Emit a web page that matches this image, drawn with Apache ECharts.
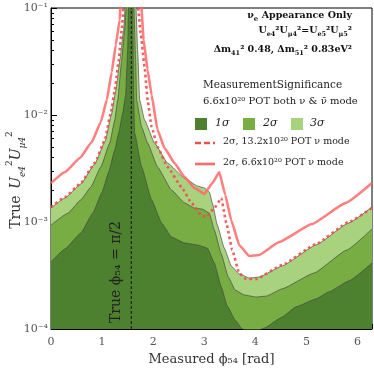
<!DOCTYPE html>
<html>
<head>
<meta charset="utf-8">
<script src="https://cdn.jsdelivr.net/npm/echarts@6/dist/echarts.min.js"></script>
<style>
html,body{margin:0;padding:0;background:#fff;}
#main{width:374px;height:376px;}
</style>
</head>
<body>
<div id="main"></div>
<script>
// measured phi54 (rad) / true Ue4^2 Umu4^2 for each contour
var sig1X = [0,0.273,0.585,0.819,0.994,1.131,1.248,1.326,1.404,1.462,1.501,1.520,1.598,1.618,1.637,1.774,1.969,2.164,2.359,2.612,2.865,3.060,3.197,3.333,3.450,3.606,3.743,3.879,4.035,4.172,4.522,4.795,5.185,5.439,5.828,6.283];
var sig1Y = [4.23e-4,5.60e-4,7.89e-4,1.21e-3,1.87e-3,2.93e-3,4.71e-3,6.79e-3,1.04e-2,1.54e-2,4.05e-2,0.12,0.12,1.38e-2,6.79e-3,3.27e-3,1.61e-3,9.79e-4,7.24e-4,6.37e-4,6.10e-4,5.71e-4,4.14e-4,2.47e-4,1.64e-4,1.21e-4,1.0e-4,9.37e-5,9.57e-5,1.02e-4,1.29e-4,1.61e-4,1.91e-4,2.22e-4,2.81e-4,4.14e-4];

var sig2X = [0,0.331,0.585,0.780,0.975,1.150,1.248,1.306,1.384,1.442,1.481,1.618,1.657,1.676,1.774,1.891,2.086,2.359,2.612,2.807,2.963,3.099,3.197,3.333,3.470,3.606,3.782,4.016,4.211,4.522,5.146,5.789,6.283];
var sig2Y = [9.37e-4,1.21e-3,1.61e-3,2.12e-3,3.27e-3,5.47e-3,8.97e-3,1.38e-2,3.27e-2,6.22e-2,0.12,0.12,3.27e-2,1.38e-2,7.73e-3,5.47e-3,3.27e-3,1.99e-3,1.51e-3,1.35e-3,1.32e-3,1.21e-3,8.41e-4,5.02e-4,3.06e-4,2.31e-4,2.08e-4,1.99e-4,2.03e-4,2.37e-4,3.33e-4,5.47e-4,8.61e-4];

var sig3X = [0,0.273,0.585,0.858,1.06,1.18,1.27,1.35,1.42,1.46,1.657,1.696,1.735,1.832,2.027,2.281,2.612,2.865,3.002,3.099,3.158,3.255,3.392,3.528,3.684,3.879,4.074,4.522,5.185,5.828,6.283];
var sig3Y = [1.35e-3,1.68e-3,2.27e-3,3.5e-3,5.7e-3,1.0e-2,1.7e-2,3.3e-2,6.2e-2,0.12,0.12,4.05e-2,1.38e-2,8.97e-3,5.47e-3,3.56e-3,2.58e-3,2.17e-3,2.08e-3,1.91e-3,1.51e-3,9.37e-4,5.71e-4,3.88e-4,3.27e-4,3.0e-4,3.06e-4,3.88e-4,6.10e-4,9.79e-4,1.38e-3];

// 2 sigma, 13.2e20 POT nu mode
var dotX = [0,0.273,0.585,0.858,1.053,1.170,1.248,1.326,1.384,1.43,1.69,1.754,1.832,1.891,1.969,2.086,2.281,2.554,2.749,2.943,3.041,3.197,3.333,3.431,3.548,3.684,3.821,4.016,4.522,5.185,5.828,6.283];
var dotY = [1.38e-3,1.71e-3,2.31e-3,3.56e-3,5.84e-3,1.04e-2,1.71e-2,3.27e-2,6.22e-2,0.12,0.12,5.84e-2,2.81e-2,1.38e-2,7.73e-3,5.02e-3,3.27e-3,2.12e-3,1.51e-3,1.16e-3,1.11e-3,1.35e-3,1.67e-3,9.79e-4,5.47e-4,3.33e-4,2.93e-4,2.93e-4,3.96e-4,6.22e-4,1.0e-3,1.35e-3];

// 2 sigma, 6.6e20 POT nu mode
var solX = [0,0.273,0.565,0.799,0.975,1.092,1.189,1.267,1.345,1.365,1.76,1.813,1.891,1.969,2.086,2.222,2.417,2.612,2.807,3.002,3.158,3.294,3.411,3.528,3.684,3.879,4.074,4.464,5.107,5.770,6.283];
var solY = [2.31e-3,2.93e-3,3.96e-3,5.60e-3,8.61e-3,1.38e-2,2.52e-2,4.51e-2,7.73e-2,0.12,0.12,5.02e-2,2.64e-2,1.54e-2,7.24e-3,4.92e-3,3.56e-3,2.64e-3,2.08e-3,1.83e-3,2.31e-3,2.93e-3,1.79e-3,1.04e-3,6.10e-4,4.81e-4,4.92e-4,6.50e-4,9.57e-4,1.51e-3,2.31e-3];

var truePhi = Math.PI / 2;

function pairs(xs, ys){
	var out = [];
	for(var i=0;i<xs.length;i++){ out.push([xs[i], ys[i]]); }
	return out;
}

var minorVals = [];
for(var e=-4;e<-1;e++){
	for(var m=2;m<10;m++){ minorVals.push(m*Math.pow(10,e)); }
}

var supMap = {'-':'⁻','0':'⁰','1':'¹','2':'²','3':'³','4':'⁴'};
function sup(s){ return String(s).split('').map(function(c){return supMap[c];}).join(''); }

var serif = '"DejaVu Serif", "Liberation Serif", serif';
var c1 = '#4d812f', c2 = '#77ad42', c3 = '#a9d27f';
var edge = {color:'#444', width:0.8, opacity:0.85};

function band(name, xs, ys, color){
	return {
		name:name, type:'line', data:pairs(xs,ys),
		showSymbol:false, smooth:0.12, smoothMonotone:'x', clip:true,
		lineStyle:edge,
		areaStyle:{color:color, opacity:1, origin:'start'},
		silent:true
	};
}

var myChart = echarts.init(document.getElementById('main'));
var option = {
	backgroundColor:'#fff',
	animation:false,
	grid:{left:51, right:2, top:8, bottom:47, show:true, borderColor:'#000', borderWidth:1,
		containLabel:false, outerBoundsMode:'none'},
	xAxis:{
		type:'value', min:0, max:2*Math.PI, interval:1,
		name:'Measured ϕ₅₄ [rad]', nameLocation:'middle', nameGap:24,
		nameTextStyle:{fontFamily:serif, fontSize:13, color:'#333'},
		axisLine:{lineStyle:{color:'#000'}},
		axisTick:{inside:true, length:5, lineStyle:{color:'#000'}},
		minorTick:{show:true, splitNumber:5, length:3, lineStyle:{color:'#000'}},
		axisLabel:{fontFamily:serif, fontSize:11, color:'#555', margin:8, showMaxLabel:false,
			formatter:function(v){ return Math.abs(v-Math.round(v))<1e-6 ? String(Math.round(v)) : ''; }},
		splitLine:{show:false}
	},
	yAxis:[{
		type:'log', logBase:10, min:1e-4, max:1e-1, position:'left',
		axisLine:{show:true, lineStyle:{color:'#000'}},
		axisTick:{inside:true, length:6, lineStyle:{color:'#000'}},
		axisLabel:{fontFamily:serif, fontSize:11, color:'#555', margin:3,
			formatter:function(v){ return '10' + sup(Math.round(Math.log10(v))); }},
		splitLine:{show:false}
	},{
		type:'log', logBase:10, min:1e-4, max:1e-1, position:'left', offset:0,
		axisLine:{show:false},
		axisTick:{show:true, inside:true, length:3, customValues:minorVals, lineStyle:{color:'#000'}},
		axisLabel:{show:false},
		splitLine:{show:false}
	}],
	series:[
		band('3σ', sig3X, sig3Y, c3),
		band('2σ', sig2X, sig2Y, c2),
		band('1σ', sig1X, sig1Y, c1),
		{
			name:'2σ, 13.2x10²⁰ POT ν mode', type:'line', data:pairs(dotX,dotY),
			showSymbol:false, smooth:0.12, smoothMonotone:'x', clip:true,
			lineStyle:{color:'#ec4f4f', width:2.6, type:[2.6,3], opacity:0.9}
		},
		{
			name:'2σ, 6.6x10²⁰ POT ν mode', type:'line', data:pairs(solX,solY),
			showSymbol:false, smooth:0.12, smoothMonotone:'x', clip:true,
			lineStyle:{color:'#ff6a6a', width:2.6, opacity:0.85}
		},
		{
			name:'true phi', type:'line', data:[[truePhi,1e-4],[truePhi,1e-1]],
			showSymbol:false, lineStyle:{color:'#111', width:1, type:[3,2]}
		}
	],
	graphic:[
		{type:'text', x:16, y:180, rotation:Math.PI/2, z:100,
			style:{text:'{t|True}  {i|U}{s|e4}{p|2}{i|U}{s|μ4}{p|2}', align:'center', verticalAlign:'middle',
				rich:{
					t:{font:'14px ' + serif, fill:'#333', lineHeight:22},
					i:{font:'italic 14px ' + serif, fill:'#333', lineHeight:22},
					s:{font:'italic 9px ' + serif, fill:'#333', verticalAlign:'bottom', lineHeight:22},
					p:{font:'9px ' + serif, fill:'#333', verticalAlign:'top', lineHeight:22}
				}}},
		{type:'text', x:116, y:272, rotation:Math.PI/2, z:100,
			style:{text:'True ϕ₅₄ = π/2', font:'14px ' + serif, fill:'#222', align:'center', verticalAlign:'middle'}},
		{type:'text', right:22, top:11, z:100,
			style:{text:'{b|ν}{bs|e}{b| Appearance Only}', align:'right',
				rich:{b:{font:'bold 9.5px ' + serif, fill:'#111'}, bs:{font:'bold 7px ' + serif, fill:'#111', verticalAlign:'bottom', lineHeight:14}}}},
		{type:'text', right:22, top:26, z:100,
			style:{text:'{b|U}{s|e4}{b|²U}{s|μ4}{b|²=U}{s|e5}{b|²U}{s|μ5}{b|²}', align:'right',
				rich:{b:{font:'bold 9.5px ' + serif, fill:'#111'}, s:{font:'bold 6.5px ' + serif, fill:'#111', verticalAlign:'bottom', lineHeight:14}}}},
		{type:'text', right:22, top:45, z:100,
			style:{text:'{b|Δm}{s|41}{b|² 0.48, Δm}{s|51}{b|² 0.83eV²}', align:'right',
				rich:{b:{font:'bold 9.5px ' + serif, fill:'#111'}, s:{font:'bold 6.5px ' + serif, fill:'#111', verticalAlign:'bottom', lineHeight:14}}}},
		{type:'text', left:203, top:80, z:100,
			style:{text:'MeasurementSignificance', font:'10.5px ' + serif, fill:'#222'}},
		{type:'text', left:203, top:96, z:100,
			style:{text:'6.6x10²⁰ POT both ν & ν̄ mode', font:'10px ' + serif, fill:'#222'}},
		{type:'rect', shape:{x:195, y:118, width:12, height:12}, style:{fill:c1}, z:100},
		{type:'text', left:215, top:118, z:100, style:{text:'1σ', font:'italic 11px ' + serif, fill:'#222'}},
		{type:'rect', shape:{x:243, y:118, width:12, height:12}, style:{fill:c2}, z:100},
		{type:'text', left:263, top:118, z:100, style:{text:'2σ', font:'italic 11px ' + serif, fill:'#222'}},
		{type:'rect', shape:{x:291, y:118, width:12, height:12}, style:{fill:c3}, z:100},
		{type:'text', left:310, top:118, z:100, style:{text:'3σ', font:'italic 11px ' + serif, fill:'#222'}},
		{type:'line', shape:{x1:195, y1:143, x2:215, y2:143}, style:{stroke:'#ec4f4f', lineWidth:2.4, lineDash:[6,3]}, z:100},
		{type:'text', left:223, top:137, z:100, style:{text:'2σ, 13.2x10²⁰ POT ν mode', font:'9.5px ' + serif, fill:'#222'}},
		{type:'line', shape:{x1:195, y1:164, x2:215, y2:164}, style:{stroke:'#ff6a6a', lineWidth:2.6}, z:100},
		{type:'text', left:223, top:158, z:100, style:{text:'2σ, 6.6x10²⁰ POT ν mode', font:'9.5px ' + serif, fill:'#222'}}
	]
};
myChart.setOption(option);
</script>
</body>
</html>
